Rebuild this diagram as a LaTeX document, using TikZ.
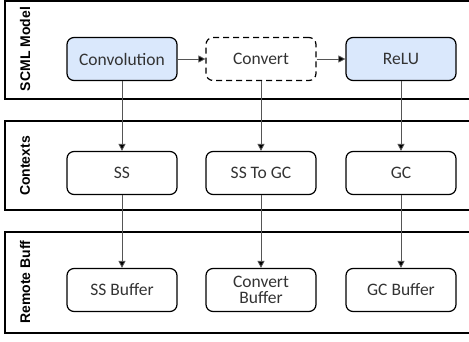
\documentclass[tikz,border=0pt]{standalone}
\usepackage{fontspec}
\setmainfont{Carlito}
\newfontfamily\lanefont{Liberation Sans}
\usetikzlibrary{arrows.meta}
\definecolor{opblue}{HTML}{DAE8FC}
\definecolor{txtgray}{HTML}{333333}
\definecolor{linegray}{HTML}{555555}
\begin{document}
\begin{tikzpicture}[x=1pt,y=-1pt,
  lane/.style={draw=black,line width=1.6pt},
  lanelabel/.style={rotate=90,font=\lanefont\bfseries\fontsize{14}{16}\selectfont},
  opbox/.style={draw=black,line width=1.2pt,rounded corners=7pt,minimum width=110pt,minimum height=43pt,
    align=center,text=txtgray,font=\fontsize{17.5}{19}\selectfont},
  flow/.style={draw=linegray,line width=0.8pt,-{Triangle[length=7pt,width=7pt,fill=black]}}]
\useasboundingbox (0,0) rectangle (469,341);

\draw [lane] (5,1) rectangle (475,99);
\draw [lane] (5,121) rectangle (475,210);
\draw [lane] (5,232) rectangle (475,333);

\node (lbl1) [lanelabel] at (25,49) {SCML Model};
\node (lbl2) [lanelabel] at (25,166) {Contexts};
\node (lbl3) [lanelabel] at (25,282) {Remote Buff};

\node (conv) [opbox,fill=opblue] at (122,59) {Convolution};
\node (convert) [opbox,dash pattern=on 6pt off 4pt] at (261,59) {Convert};
\node (relu) [opbox,fill=opblue] at (401,59) {ReLU};

\node (ss) [opbox] at (122,173) {SS};
\node (sstogc) [opbox] at (261,173) {SS To GC};
\node (gc) [opbox] at (401,173) {GC};

\node (ssbuf) [opbox] at (122,290) {SS Buffer};
\node (convbuf) [opbox] at (261,290) {Convert\\[-3pt]Buffer};
\node (gcbuf) [opbox] at (401,290) {GC Buffer};

\draw [flow] (conv) -- (convert);
\draw [flow] (convert) -- (relu);

\draw [flow] (conv) -- (ss);
\draw [flow] (convert) -- (sstogc);
\draw [flow] (relu) -- (gc);

\draw [flow] (ss) -- (ssbuf);
\draw [flow] (sstogc) -- (convbuf);
\draw [flow] (gc) -- (gcbuf);

\end{tikzpicture}
\end{document}
